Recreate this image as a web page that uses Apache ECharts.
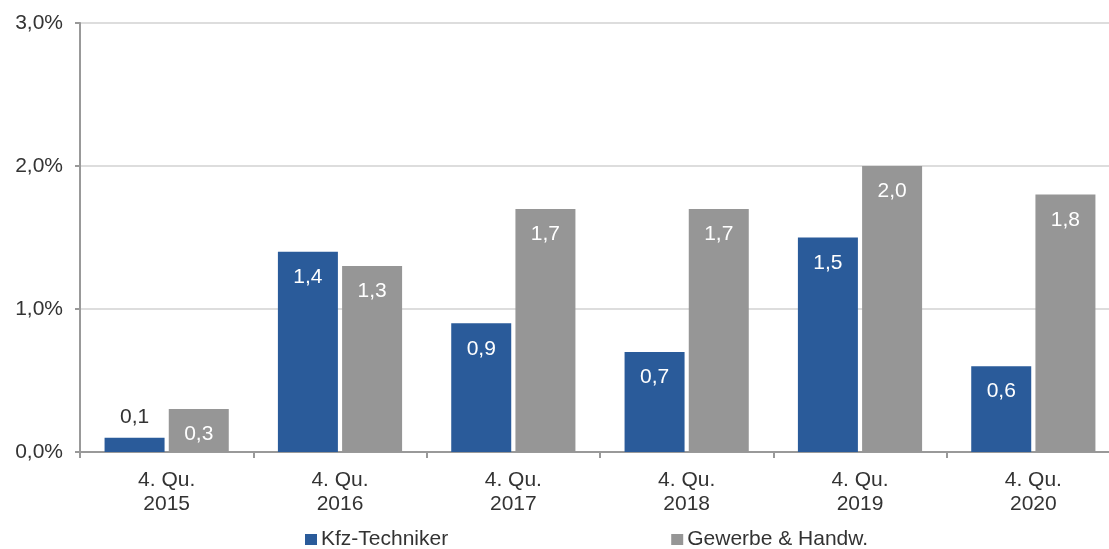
<!doctype html>
<html>
<head>
<meta charset="UTF-8">
<title>Kfz-Techniker</title>
<script src="https://cdn.jsdelivr.net/npm/echarts@6/dist/echarts.min.js"></script>
<style>body{margin:0;background:#fff}</style>
</head>
<body>
<div id="chart" style="width:1109px;height:549px;"></div>
<script>
var categories = ['4. Qu.\n2015', '4. Qu.\n2016', '4. Qu.\n2017', '4. Qu.\n2018', '4. Qu.\n2019', '4. Qu.\n2020'];
var kfz = [0.1, 1.4, 0.9, 0.7, 1.5, 0.6];
var gewerbe = [0.3, 1.3, 1.7, 1.7, 2.0, 1.8];

var fmt = function (v) { return v.toFixed(1).replace('.', ','); };
var font = 'Liberation Sans, Arial, sans-serif';

function items(arr) {
    return arr.map(function (v) {
        // small bars get the label above the bar
        if (v < 0.2) {
            return { value: v, label: { position: 'top', color: '#333', distance: 10 } };
        }
        return v;
    });
}

var myChart = echarts.init(document.getElementById('chart'));
myChart.setOption({
    animation: false,
    textStyle: { fontFamily: font },
    // the original picture is cut off on the right, so the grid runs past the edge
    grid: { left: 80, width: 1040, top: 23, bottom: 97, outerBoundsMode: 'none' },
    legend: {
        top: 524,
        left: 300,
        itemGap: 223,
        itemWidth: 12,
        itemHeight: 11,
        icon: 'rect',
        textStyle: { fontSize: 21, color: '#333', fontFamily: font, padding: [0, 0, 0, -1] },
        data: ['Kfz-Techniker', 'Gewerbe & Handw.']
    },
    xAxis: {
        type: 'category',
        data: categories,
        axisLine: { lineStyle: { color: '#999', width: 2 } },
        axisTick: { show: true, length: 6, lineStyle: { color: '#999', width: 2 } },
        axisLabel: { color: '#333', fontSize: 21, lineHeight: 24, margin: 16, fontFamily: font }
    },
    yAxis: {
        type: 'value',
        min: 0,
        max: 3,
        interval: 1,
        axisLine: { show: true, lineStyle: { color: '#999', width: 2 } },
        axisTick: { show: true, length: 5, lineStyle: { color: '#999', width: 2 } },
        splitLine: { lineStyle: { color: '#ddd', width: 2 } },
        axisLabel: {
            color: '#333', fontSize: 21, margin: 17, fontFamily: font,
            formatter: function (v) { return fmt(v) + '%'; }
        }
    },
    series: [
        {
            name: 'Kfz-Techniker',
            type: 'bar',
            barWidth: 60,
            barGap: '7%',
            itemStyle: { color: '#2A5B9A' },
            label: {
                show: true, position: 'insideTop', distance: 15,
                color: '#fff', fontSize: 21, fontFamily: font,
                formatter: function (p) { return fmt(p.value); }
            },
            data: items(kfz)
        },
        {
            name: 'Gewerbe & Handw.',
            type: 'bar',
            barWidth: 60,
            itemStyle: { color: '#969696' },
            label: {
                show: true, position: 'insideTop', distance: 15,
                color: '#fff', fontSize: 21, fontFamily: font,
                formatter: function (p) { return fmt(p.value); }
            },
            data: items(gewerbe)
        }
    ]
});
</script>
</body>
</html>
